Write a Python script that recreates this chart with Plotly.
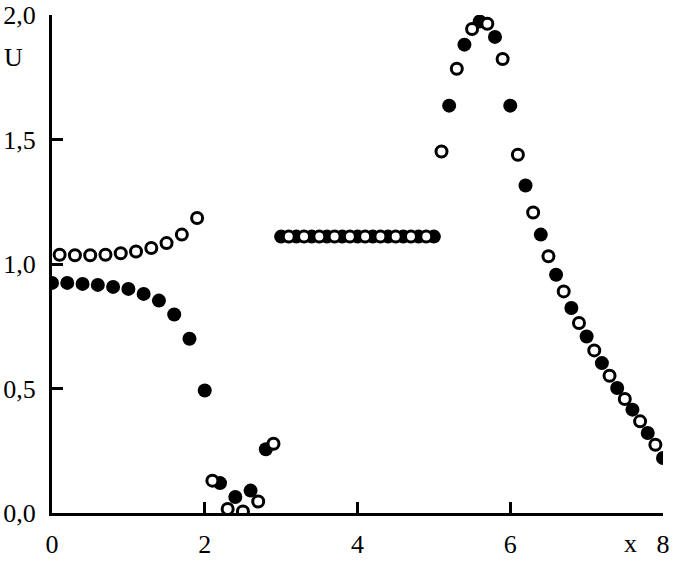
import plotly.graph_objects as go

# filled circles
x_filled = [0.0, 0.2, 0.4, 0.6, 0.8, 1.0, 1.2, 1.4, 1.6, 1.8, 2.0,
            2.2, 2.4, 2.6, 2.8,
            3.0, 3.2, 3.4, 3.6, 3.8, 4.0, 4.2, 4.4, 4.6, 4.8, 5.0,
            5.2, 5.4, 5.6, 5.8, 6.0, 6.2, 6.4, 6.6, 6.8, 7.0, 7.2, 7.4, 7.6, 7.8, 8.0]
u_filled = [0.924, 0.924, 0.920, 0.916, 0.908, 0.900, 0.880, 0.853, 0.797, 0.700, 0.492,
            0.120, 0.064, 0.090, 0.256,
            1.11, 1.11, 1.11, 1.11, 1.11, 1.11, 1.11, 1.11, 1.11, 1.11, 1.11,
            1.636, 1.881, 1.974, 1.912, 1.636, 1.315, 1.118, 0.957, 0.823, 0.709, 0.602, 0.502, 0.415, 0.321, 0.221]

# open circles
x_open = [0.1, 0.3, 0.5, 0.7, 0.9, 1.1, 1.3, 1.5, 1.7, 1.9,
          2.1, 2.3, 2.5, 2.7, 2.9,
          3.1, 3.3, 3.5, 3.7, 3.9, 4.1, 4.3, 4.5, 4.7, 4.9,
          5.1, 5.3, 5.5, 5.7, 5.9, 6.1, 6.3, 6.5, 6.7, 6.9, 7.1, 7.3, 7.5, 7.7, 7.9]
u_open = [1.037, 1.035, 1.035, 1.037, 1.043, 1.050, 1.064, 1.084, 1.118, 1.185,
          0.130, 0.016, 0.006, 0.046, 0.278,
          1.11, 1.11, 1.11, 1.11, 1.11, 1.11, 1.11, 1.11, 1.11, 1.11,
          1.452, 1.784, 1.944, 1.965, 1.823, 1.439, 1.207, 1.031, 0.890, 0.763, 0.653, 0.551, 0.458, 0.368, 0.274]

x_ticks = [0, 2, 4, 6, 8]
x_ticktext = ["0", "2", "4", "6", "8"]
y_ticks = [0, 0.5, 1.0, 1.5, 2.0]
y_ticktext = ["0,0", "0,5", "1,0", "1,5", "2,0"]

FONT = "Liberation Serif"

fig = go.Figure()
fig.add_trace(go.Scatter(
    x=x_filled, y=u_filled, mode="markers",
    marker=dict(symbol="circle", size=14, color="black", line=dict(width=0)),
    showlegend=False))
fig.add_trace(go.Scatter(
    x=x_open, y=u_open, mode="markers",
    marker=dict(symbol="circle", size=11, color="white", line=dict(width=3, color="black")),
    showlegend=False))

fig.update_xaxes(range=[0, 8], tickvals=x_ticks, ticktext=x_ticktext,
                 showline=True, linewidth=3, linecolor="black",
                 ticks="inside", ticklen=11, tickwidth=3, tickcolor="black",
                 showgrid=False, zeroline=False, automargin=False,
                 ticklabelstandoff=6,
                 tickfont=dict(family=FONT, size=26, color="black"))
fig.update_yaxes(range=[0, 2], tickvals=y_ticks, ticktext=y_ticktext,
                 showline=True, linewidth=3, linecolor="black",
                 ticks="inside", ticklen=11, tickwidth=3, tickcolor="black",
                 showgrid=False, zeroline=False, ticklabelstandoff=8,
                 automargin=False,
                 tickfont=dict(family=FONT, size=26, color="black"))

fig.add_annotation(text="x", xref="x", yref="paper", x=7.57, y=0,
                   xanchor="center", yanchor="top", yshift=-14, showarrow=False,
                   font=dict(family=FONT, size=26, color="black"))
fig.add_annotation(text="U", xref="paper", yref="paper", x=-0.063, y=0.914,
                   xanchor="center", yanchor="middle", showarrow=False,
                   font=dict(family=FONT, size=26, color="black"))

fig.update_layout(width=678, height=563,
                  margin=dict(l=52, r=15, t=15, b=50),
                  paper_bgcolor="white", plot_bgcolor="white",
                  hovermode=False,
                  font=dict(family=FONT, size=26, color="black"))

fig.write_html("out.html",
               config={"displayModeBar": False},
               post_script="document.body.style.margin='0';document.body.style.overflow='hidden';")
